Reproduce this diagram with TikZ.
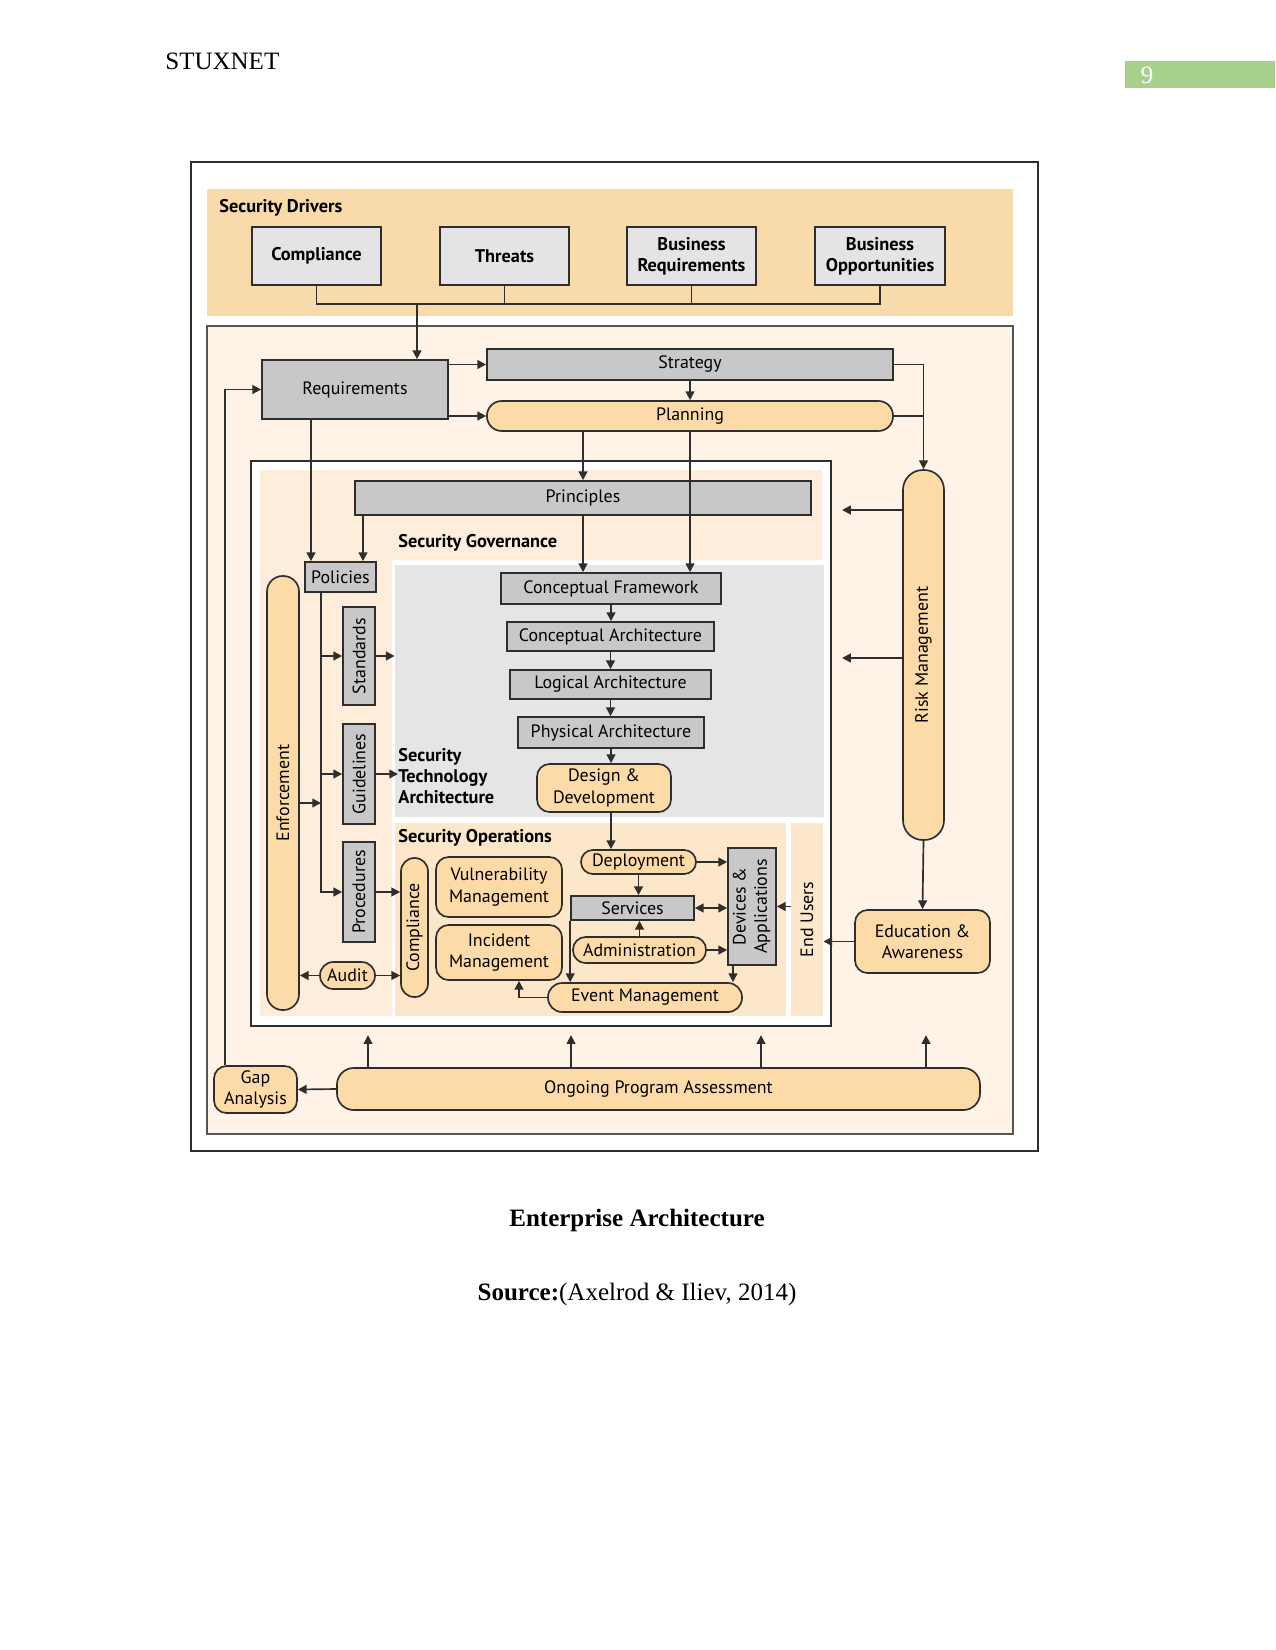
\documentclass[tikz,border=0pt]{standalone}
\usepackage{fontspec}
\setmainfont{Liberation Serif}
\newfontfamily\diagfamily{PT Sans}
\usepackage{graphicx}
\usetikzlibrary{arrows.meta,calc,positioning}

\definecolor{linec}{HTML}{2E2E2E}
\definecolor{mainline}{HTML}{555555}
\definecolor{drvband}{HTML}{F9DAAB}
\definecolor{mainbg}{HTML}{FEF3E6}
\definecolor{govbg}{HTML}{FDEDDA}
\definecolor{stabg}{HTML}{E5E5E5}
\definecolor{opsbg}{HTML}{FCE7CB}
\definecolor{nodeor}{HTML}{FDDBA8}
\definecolor{boxgray}{HTML}{C8C8C8}
\definecolor{drvgray}{HTML}{E4E4E6}
\definecolor{pggreen}{HTML}{A8D08D}

\newcommand{\diagfont}{\diagfamily\fontsize{8.6}{10.2}\selectfont}
\newcommand{\diagbold}{\diagfamily\bfseries\fontsize{8.8}{10.2}\selectfont}
\newcommand{\pagefont}{\fontsize{12}{14}\selectfont}

\begin{document}
\begin{tikzpicture}[x=0.48pt,y=-0.48pt,>={Triangle[length=4.2pt,width=4.2pt]},
  sz/.style 2 args={minimum width=#1*0.48pt,minimum height=#2*0.48pt},
  gbox/.style={draw=linec,fill=boxgray,line width=0.8pt,inner sep=0pt,font=\diagfont,align=center},
  dbox/.style={gbox,fill=drvgray,font=\diagbold},
  obox/.style={draw=linec,fill=nodeor,line width=0.8pt,rounded corners=#1,inner sep=0pt,font=\diagfont,align=center},
  obox/.default=6pt,
  lbl/.style={anchor=west,font=\diagbold,align=left,inner sep=0pt},
  conn/.style={draw=linec,line width=0.8pt}]
\useasboundingbox (0,0) rectangle (1275,1650);

% page header and caption
\node[anchor=west,inner sep=0pt,font=\pagefont] (hdr) at (165,61) {STUXNET};
\fill[pggreen] (1125,61) rectangle (1275,88);
\node[inner sep=0pt,text=white,font=\pagefont] (pgno) at (1147,75) {9};
\node[font=\bfseries\pagefont] (cap) at (637,1220) {Enterprise Architecture};
\node[font=\pagefont] (src) at (637,1294) {\textbf{Source:}(Axelrod \& Iliev, 2014)};

% frames and shaded areas
\draw[linec,line width=0.8pt] (191,162) rectangle (1038,1151);
\fill[drvband] (207,189) rectangle (1013,316);
\draw[mainline,fill=mainbg,line width=0.8pt] (207,326) rectangle (1013,1134);
\draw[linec,fill=white,line width=1.2pt] (251,461) rectangle (831,1026);
\fill[govbg] (260,470) -- (822,470) -- (822,560) -- (392,560) -- (392,1016) -- (260,1016) -- cycle;
\node[fill=stabg,sz={429}{252},inner sep=0pt] (sta) at (609.5,691) {};
\node[fill=opsbg,sz={391}{193},inner sep=0pt] (ops) at (590.5,919.5) {};
\node[fill=opsbg,sz={32}{193},inner sep=0pt,font=\diagfont] (eu) at (807,919.5) {\rotatebox{90}{End Users}};

% area labels
\node[lbl] (sdl) at (219,208) {Security Drivers};
\node[lbl] (sgl) at (398,543) {Security Governance};
\node[lbl] (stl) at (398,776) {Security\\Technology\\Architecture};
\node[lbl] (sol) at (398,838) {Security Operations};

% security drivers
\node[dbox,sz={129}{58}] (comp) at (316.5,256) {Compliance};
\node[dbox,sz={129}{58}] (thr) at (504.5,256) {Threats};
\node[dbox,sz={129}{58}] (breq) at (691.5,256) {Business\\Requirements};
\node[dbox,sz={130}{58}] (bopp) at (880,256) {Business\\Opportunities};

% program level
\node[gbox,sz={186}{59}] (req) at (355,389.5) {Requirements};
\node[gbox,sz={406}{31}] (strat) at (690,364.5) {Strategy};
\node[obox=7pt,sz={406}{30}] (plan) at (690,416) {Planning};
\node[obox=9.5pt,sz={41}{370}] (risk) at (923.5,655) {\rotatebox{90}{Risk Management}};
\node[obox,sz={135}{63}] (edu) at (922.5,941.5) {Education \&\\Awareness};

% governance
\node[gbox,sz={456}{34}] (princ) at (583,498) {Principles};
\node[gbox,sz={71}{30}] (pol) at (340.5,577) {Policies};
\node[obox=7.5pt,sz={32}{434}] (enf) at (283,793) {\rotatebox{90}{Enforcement}};
\node[gbox,sz={32}{98}] (std) at (359,656) {\rotatebox{90}{Standards}};
\node[gbox,sz={32}{100}] (gdl) at (359,774) {\rotatebox{90}{Guidelines}};
\node[gbox,sz={32}{100}] (prc) at (359,892) {\rotatebox{90}{Procedures}};
\node[obox=6.4pt,sz={55}{27}] (aud) at (347.5,975.5) {Audit};

% technology architecture
\node[gbox,sz={220}{31}] (cf) at (611,588.5) {Conceptual Framework};
\node[gbox,sz={207}{29}] (ca) at (610.5,636.5) {Conceptual Architecture};
\node[gbox,sz={201}{29}] (la) at (610.5,684.5) {Logical Architecture};
\node[gbox,sz={186}{31}] (pa) at (611,732.5) {Physical Architecture};
\node[obox,sz={134}{48}] (dd) at (604,788) {Design \&\\Development};

% operations
\node[obox=6.4pt,sz={27}{139}] (cmp) at (414.5,927.5) {\rotatebox{90}{Compliance}};
\node[obox,sz={126}{60}] (vm) at (499,887) {Vulnerability\\Management};
\node[obox,sz={126}{55}] (im) at (499,952.5) {Incident\\Management};
\node[obox=5.7pt,sz={115}{24}] (dep) at (638.5,862) {Deployment};
\node[gbox,sz={123}{24}] (srv) at (632.5,908) {Services};
\node[obox=6pt,sz={133}{26}] (adm) at (639.5,950) {Administration};
\node[obox=6.8pt,sz={194}{29}] (evm) at (645,997.5) {Event Management};
\node[gbox,sz={48}{117}] (dev) at (752,906.5) {\rotatebox{90}{\begin{tabular}{@{}c@{}}Devices \&\\Applications\end{tabular}}};

% assessment
\node[obox=8pt,sz={643}{42}] (opa) at (658.5,1089) {Ongoing Program Assessment};
\node[obox,sz={83}{47}] (gap) at (255.5,1089.5) {Gap\\Analysis};

% drivers bus
\coordinate (bus) at (417,304);
\draw[conn] (comp.south) -- (comp.south |- bus) -| (bopp.south);
\draw[conn] (thr.south) -- (thr.south |- bus);
\draw[conn] (breq.south) -- (breq.south |- bus);
\draw[conn,->] (bus) -- (req.north -| bus);

% program flow
\draw[conn,->] (req.east |- strat.west) -- (strat.west);
\draw[conn,->] (req.east |- plan.west) -- (plan.west);
\draw[conn,->] (strat.south) -- (plan.north);
\draw[conn,->] (strat.east) -| (risk.north);
\draw[conn] (plan.east) -- (plan.east -| risk.north);
\draw[conn,->] (plan.south -| princ.north) -- (princ.north);
\draw[conn,->] (plan.south) -- (plan.south |- cf.north);
\draw[conn,->] (princ.south) -- (princ.south |- cf.north);
\coordinate (rk1) at (842,510);
\coordinate (rk2) at (842,658);
\draw[conn,->] (risk.west |- rk1) -- (rk1);
\draw[conn,->] (risk.west |- rk2) -- (rk2);
\draw[conn,->] (risk.south) -- (edu.north);
\draw[conn,->] (edu.west) -- (edu.west -| eu.east);

% governance flow
\coordinate (rq) at (311,0);
\coordinate (pr) at (363,0);
\draw[conn,->] (req.south -| rq) -- (pol.north -| rq);
\draw[conn,->] (princ.south -| pr) -- (pol.north -| pr);
\coordinate (sp) at (321,0);
\draw[conn,->] (pol.south -| sp) |- (prc.west);
\draw[conn,->] (sp |- std.west) -- (std.west);
\draw[conn,->] (sp |- gdl.west) -- (gdl.west);
\coordinate (ef) at (321,803);
\draw[conn,->] (enf.east |- ef) -- (ef);
\draw[conn,->] (std.east) -- (std.east -| sta.west);
\draw[conn,->] (gdl.east) -- (gdl.east -| stl.west);
\draw[conn,->] (prc.east) -- (prc.east -| cmp.west);
\draw[conn,->] (aud.west) -- (aud.west -| enf.east);
\draw[conn,->] (aud.east) -- (aud.east -| cmp.west);

% architecture chain
\draw[conn,->] (cf.south) -- (cf.south |- ca.north);
\draw[conn,->] (ca.south) -- (ca.south |- la.north);
\draw[conn,->] (la.south) -- (la.south |- pa.north);
\draw[conn,->] (pa.south) -- (pa.south |- dd.north);
\draw[conn,->] (dd.south -| pa.south) -- (dep.north -| pa.south);

% operations flow
\draw[conn,->] (dep.south) -- (dep.south |- srv.north);
\draw[conn,->] (dep.east) -- (dep.east -| dev.west);
\draw[conn,<->] (srv.east) -- (srv.east -| dev.west);
\draw[conn,->] (adm.north) -- (adm.north |- srv.south);
\draw[conn,->] (adm.east) -- (adm.east -| dev.west);
\draw[conn,->] (srv.south west) -- (srv.south west |- evm.north);
\coordinate (dx) at (733,0);
\draw[conn,->] (dev.south -| dx) -- (evm.north -| dx);
\coordinate (ix) at (519,0);
\draw[conn,->] (evm.west) -| (im.south -| ix);
\draw[conn,->] (eu.west |- dev.east) -- (dev.east);

% assessment loop
\foreach \ux in {368,571,761,926}
  \draw[conn,->] (opa.north -| \ux,0) -- ++(0,-32);
\draw[conn,->] (opa.west) -- (gap.east);
\coordinate (gx) at (225,0);
\draw[conn,->] (gap.north -| gx) |- (req.west);
\end{tikzpicture}
\end{document}
